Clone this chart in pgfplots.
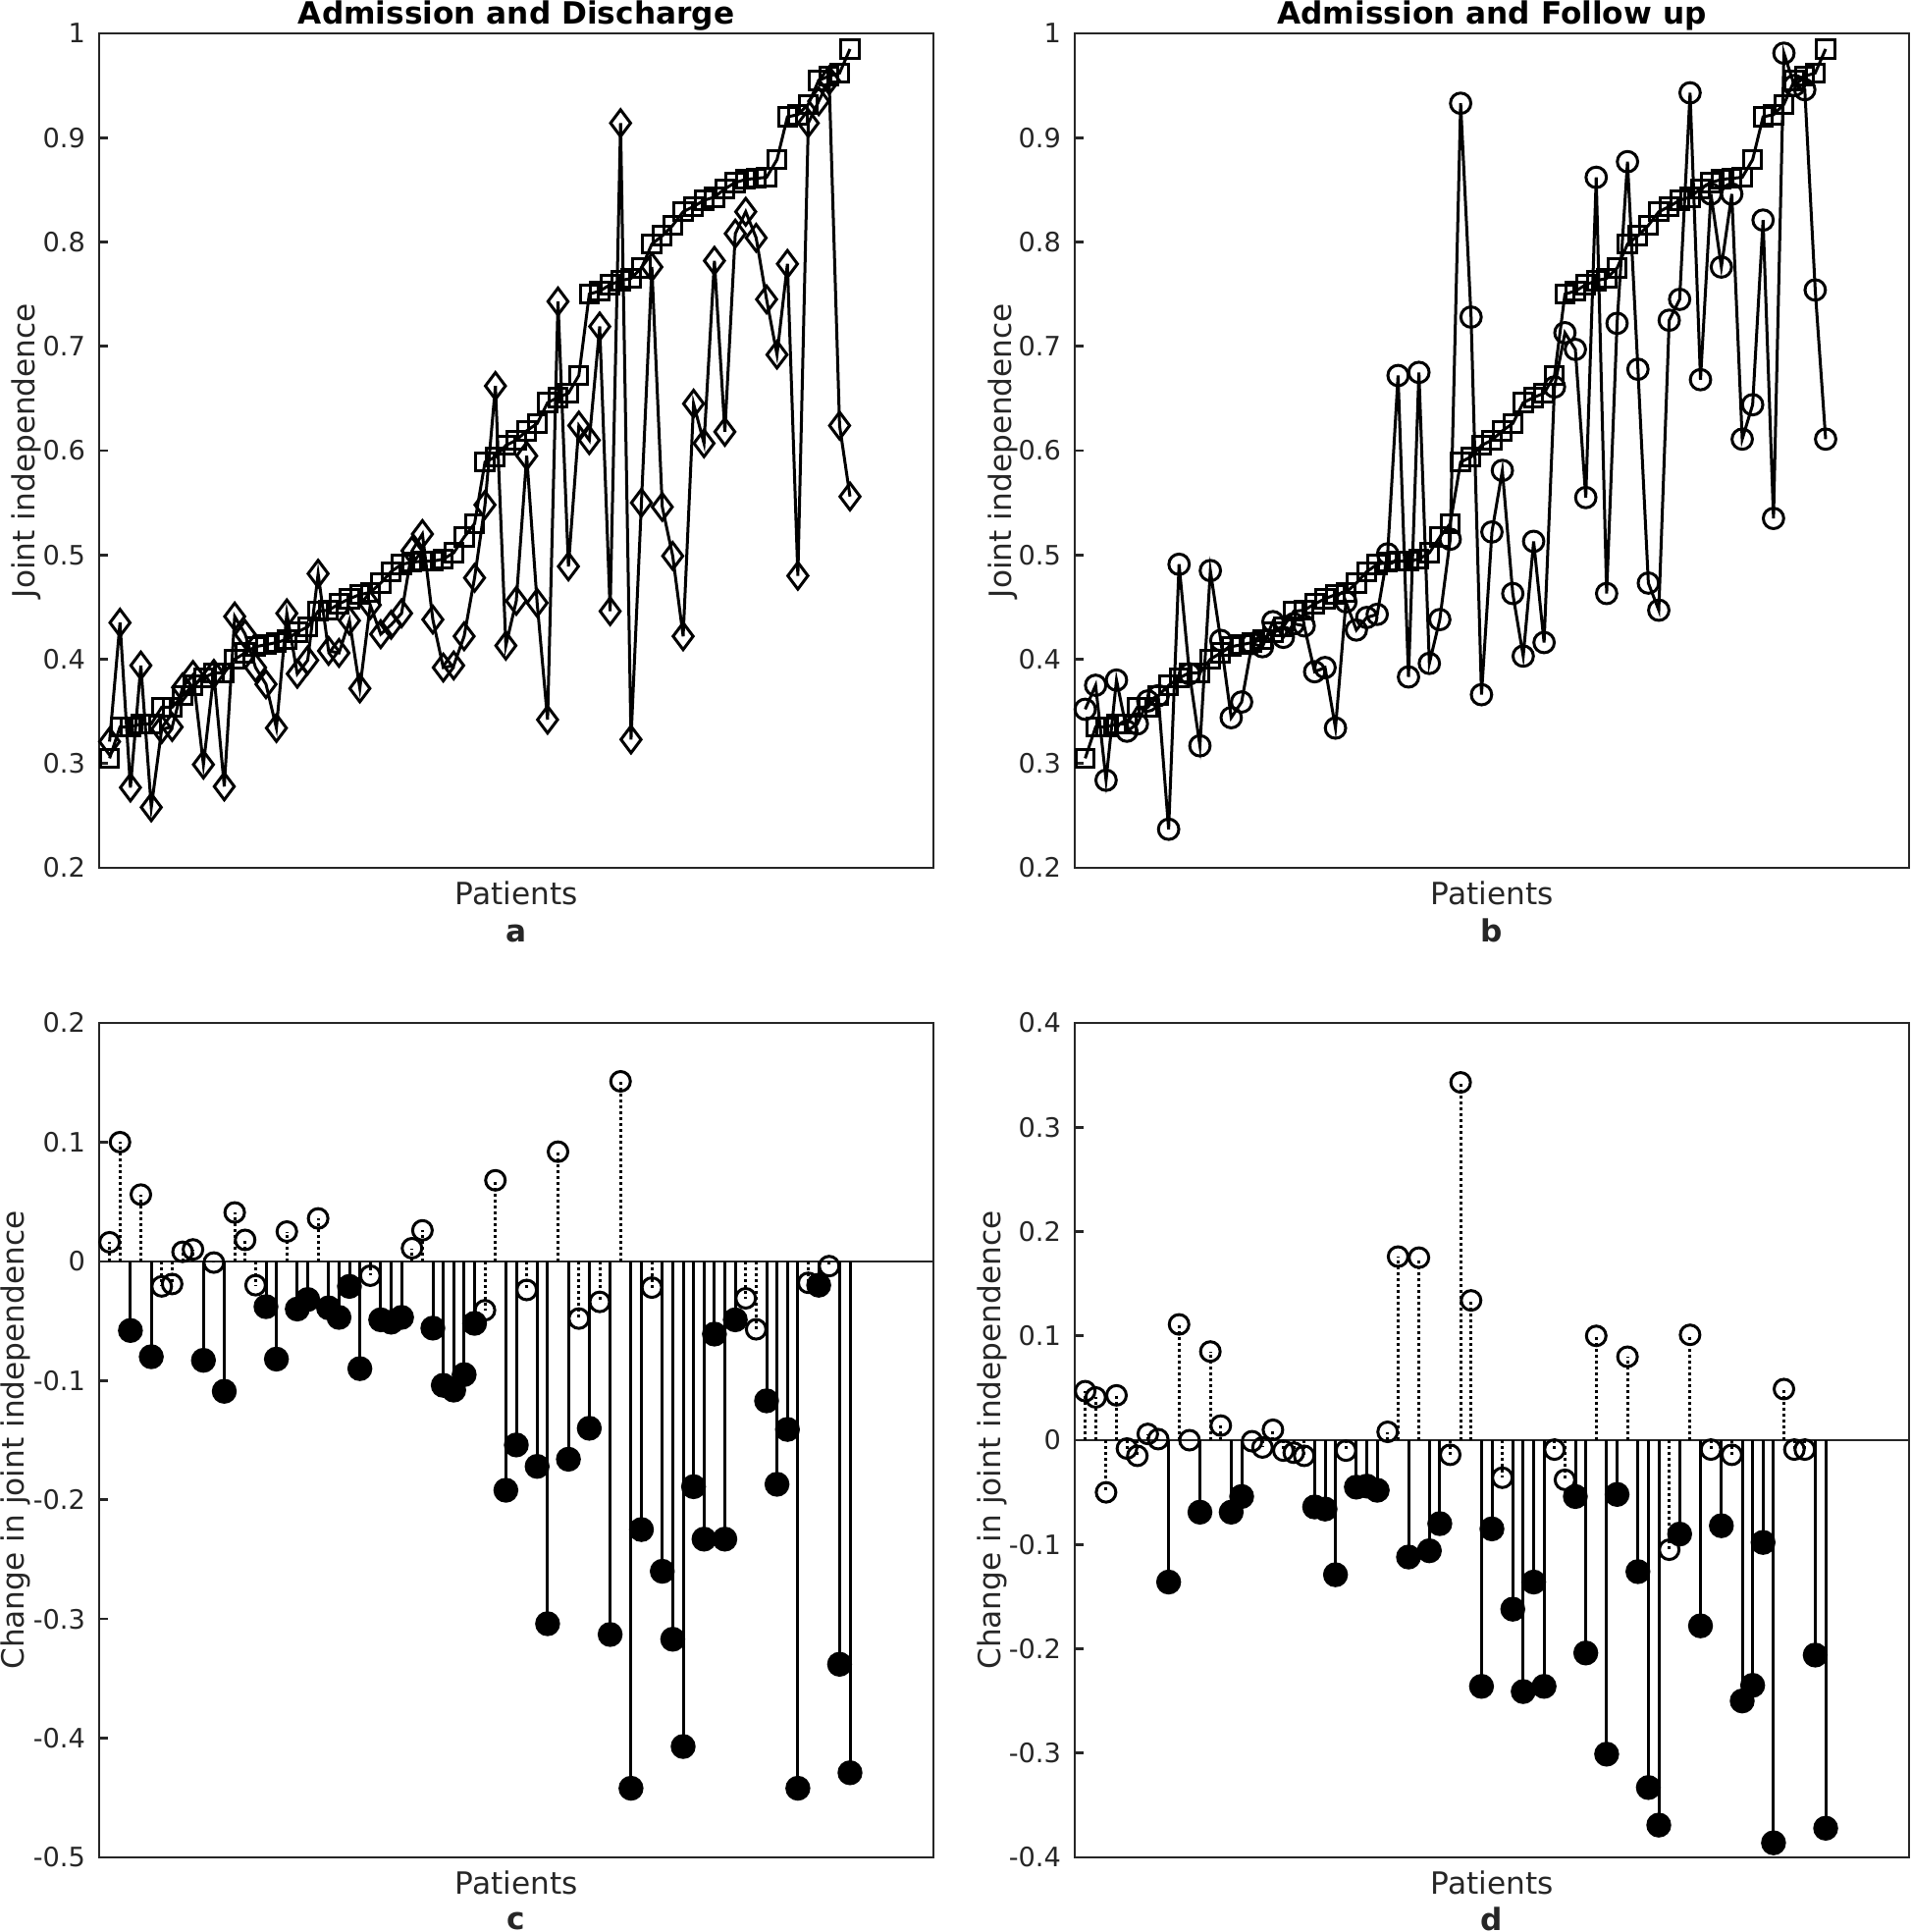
\documentclass[border=0pt]{standalone}
\usepackage{fontspec}
\setmainfont{DejaVu Sans}
\usepackage{pgfplots}
\pgfplotsset{compat=1.18}
\definecolor{axgray}{HTML}{262626}

\newcommand{\tickfont}{\fontsize{6.8}{8}\selectfont}
\newcommand{\labfont}{\fontsize{7.8}{9}\selectfont}

\pgfplotsset{
  panel/.style={
    width=212.5pt, height=212.5pt, scale only axis,
    xmin=0, xmax=80, xtick=\empty,
    axis line style={axgray, line width=0.65pt},
    ytick pos=left, tick align=inside, major tick length=2.25pt,
    every tick/.style={axgray, line width=0.65pt},
    yticklabel style={font=\tickfont, text=axgray},
    /pgf/number format/assume math mode=true,
    scaled y ticks=false,
  },
  dline/.style={black, line width=0.75pt},
}

% admission (sorted), shared by panels a and b
\def\adm{(1,0.305) (2,0.335) (3,0.335) (4,0.338) (5,0.338) (6,0.354) (7,0.354) (8,0.365) (9,0.375) (10,0.382) (11,0.387) (12,0.387) (13,0.400) (14,0.406) (15,0.412) (16,0.414) (17,0.416) (18,0.419) (19,0.426) (20,0.431) (21,0.446) (22,0.447) (23,0.453) (24,0.458) (25,0.462) (26,0.464) (27,0.473) (28,0.484) (29,0.491) (30,0.493) (31,0.494) (32,0.494) (33,0.496) (34,0.502) (35,0.517) (36,0.530) (37,0.589) (38,0.594) (39,0.605) (40,0.610) (41,0.619) (42,0.626) (43,0.646) (44,0.651) (45,0.655) (46,0.672) (47,0.750) (48,0.753) (49,0.759) (50,0.763) (51,0.765) (52,0.775) (53,0.798) (54,0.806) (55,0.816) (56,0.829) (57,0.834) (58,0.840) (59,0.843) (60,0.851) (61,0.857) (62,0.860) (63,0.861) (64,0.862) (65,0.879) (66,0.920) (67,0.922) (68,0.932) (69,0.955) (70,0.959) (71,0.962) (72,0.985)}

\begin{document}
\begin{tikzpicture}
\useasboundingbox (0,0) rectangle (486.75pt,-492pt);

% ---------------- a ----------------
\begin{axis}[panel, name=pa, at={(25.25pt,-8.5pt)}, anchor=north west,
  ymin=0.2, ymax=1, ytick={0.2,0.3,...,1.0}]
\addplot[dline, mark=square, mark size=2.3pt] coordinates {\adm};
\addplot[dline, mark=diamond, mark size=3.4pt] coordinates {
 (1,0.321) (2,0.435) (3,0.277) (4,0.394) (5,0.258) (6,0.333) (7,0.335) (8,0.373) (9,0.385) (10,0.299)
 (11,0.386) (12,0.278) (13,0.441) (14,0.424) (15,0.392) (16,0.376) (17,0.334) (18,0.444) (19,0.386) (20,0.399)
 (21,0.482) (22,0.408) (23,0.406) (24,0.437) (25,0.372) (26,0.452) (27,0.424) (28,0.433) (29,0.444) (30,0.504)
 (31,0.520) (32,0.438) (33,0.392) (34,0.394) (35,0.422) (36,0.478) (37,0.548) (38,0.662) (39,0.413) (40,0.456)
 (41,0.595) (42,0.454) (43,0.342) (44,0.743) (45,0.489) (46,0.624) (47,0.610) (48,0.719) (49,0.446) (50,0.914)
 (51,0.323) (52,0.550) (53,0.776) (54,0.546) (55,0.499) (56,0.422) (57,0.645) (58,0.607) (59,0.782) (60,0.618)
 (61,0.808) (62,0.829) (63,0.804) (64,0.745) (65,0.692) (66,0.779) (67,0.480) (68,0.914) (69,0.935) (70,0.955)
 (71,0.624) (72,0.556)};
\end{axis}
\node[rotate=90, font=\labfont, text=axgray] at ([xshift=-18.5pt]pa.west) {Joint independence};
\node[anchor=base, font=\labfont\bfseries] at ([yshift=2.3pt]pa.north) {Admission and Discharge};
\node[anchor=base, font=\labfont, text=axgray] at ([yshift=-9.3pt]pa.south) {Patients};
\node[anchor=base, font=\labfont\bfseries, text=axgray] at ([yshift=-18.75pt]pa.south) {a};

% ---------------- b ----------------
\begin{axis}[panel, name=pb, at={(273.75pt,-8.5pt)}, anchor=north west,
  ymin=0.2, ymax=1, ytick={0.2,0.3,...,1.0}]
\addplot[dline, mark=square, mark size=2.3pt] coordinates {\adm};
\addplot[dline, mark=o, mark size=2.6pt] coordinates {
 (1,0.352) (2,0.375) (3,0.284) (4,0.380) (5,0.331) (6,0.338) (7,0.360) (8,0.365) (9,0.237) (10,0.491)
 (11,0.386) (12,0.317) (13,0.485) (14,0.418) (15,0.344) (16,0.359) (17,0.415) (18,0.412) (19,0.436) (20,0.421)
 (21,0.434) (22,0.432) (23,0.388) (24,0.392) (25,0.334) (26,0.455) (27,0.428) (28,0.440) (29,0.443) (30,0.501)
 (31,0.672) (32,0.383) (33,0.675) (34,0.396) (35,0.438) (36,0.515) (37,0.933) (38,0.728) (39,0.366) (40,0.522)
 (41,0.581) (42,0.463) (43,0.403) (44,0.513) (45,0.416) (46,0.661) (47,0.713) (48,0.697) (49,0.555) (50,0.862)
 (51,0.463) (52,0.722) (53,0.877) (54,0.678) (55,0.473) (56,0.447) (57,0.725) (58,0.745) (59,0.943) (60,0.668)
 (61,0.846) (62,0.776) (63,0.846) (64,0.611) (65,0.644) (66,0.821) (67,0.535) (68,0.981) (69,0.950) (70,0.946)
 (71,0.754) (72,0.611)};
\end{axis}
\node[rotate=90, font=\labfont, text=axgray] at ([xshift=-18.25pt]pb.west) {Joint independence};
\node[anchor=base, font=\labfont\bfseries] at ([yshift=2.3pt]pb.north) {Admission and Follow up};
\node[anchor=base, font=\labfont, text=axgray] at ([yshift=-9.3pt]pb.south) {Patients};
\node[anchor=base, font=\labfont\bfseries, text=axgray] at ([yshift=-18.75pt]pb.south) {b};

% ---------------- c ----------------
\begin{axis}[panel, name=pc, at={(25.25pt,-260.5pt)}, anchor=north west,
  ymin=-0.5, ymax=0.2, ytick={-0.5,-0.4,...,0.2}]
\addplot[axgray, line width=0.65pt] coordinates {(0,0) (80,0)};
\addplot[dline, ycomb, mark=*, mark size=2.8pt] coordinates {
 (3,-0.058) (5,-0.080) (10,-0.083) (12,-0.109) (16,-0.038) (17,-0.082) (19,-0.040) (20,-0.032)
 (22,-0.039) (23,-0.047) (24,-0.021) (25,-0.090) (27,-0.049) (28,-0.051) (29,-0.047) (32,-0.056)
 (33,-0.104) (34,-0.108) (35,-0.095) (36,-0.052) (39,-0.192) (40,-0.154) (42,-0.172) (43,-0.304)
 (45,-0.166) (47,-0.140) (49,-0.313) (51,-0.442) (52,-0.225) (54,-0.260) (55,-0.317) (56,-0.407)
 (57,-0.189) (58,-0.233) (59,-0.061) (60,-0.233) (61,-0.049) (64,-0.117) (65,-0.187) (66,-0.141)
 (67,-0.442) (69,-0.020) (71,-0.338) (72,-0.429)};
\addplot[dline, ycomb, dash pattern=on 0.75pt off 0.75pt, mark=o, mark size=2.5pt, mark options={solid}] coordinates {
 (1,0.016) (2,0.100) (4,0.056) (6,-0.021) (7,-0.019) (8,0.008) (9,0.010) (11,-0.001) (13,0.041)
 (14,0.018) (15,-0.020) (18,0.025) (21,0.036) (26,-0.012) (30,0.011) (31,0.026) (37,-0.041)
 (38,0.068) (41,-0.024) (44,0.092) (46,-0.048) (48,-0.034) (50,0.151) (53,-0.022) (62,-0.031)
 (63,-0.057) (68,-0.018) (70,-0.004)};
\end{axis}
\node[rotate=90, font=\labfont, text=axgray] at ([xshift=-21.3pt]pc.west) {Change in joint independence};
\node[anchor=base, font=\labfont, text=axgray] at ([yshift=-9.3pt]pc.south) {Patients};
\node[anchor=base, font=\labfont\bfseries, text=axgray] at ([yshift=-18.5pt]pc.south) {c};

% ---------------- d ----------------
\begin{axis}[panel, name=pd, at={(273.75pt,-260.5pt)}, anchor=north west,
  ymin=-0.4, ymax=0.4, ytick={-0.4,-0.3,...,0.4}]
\addplot[axgray, line width=0.65pt] coordinates {(0,0) (80,0)};
\addplot[dline, ycomb, mark=*, mark size=2.8pt] coordinates {
 (9,-0.136) (12,-0.069) (15,-0.069) (16,-0.054) (23,-0.064) (24,-0.066) (25,-0.129) (27,-0.045)
 (28,-0.044) (29,-0.048) (32,-0.112) (34,-0.106) (35,-0.080) (39,-0.236) (40,-0.085) (42,-0.162)
 (43,-0.241) (44,-0.136) (45,-0.236) (48,-0.054) (49,-0.204) (51,-0.301) (52,-0.052) (54,-0.126)
 (55,-0.333) (56,-0.369) (58,-0.090) (60,-0.178) (62,-0.082) (64,-0.250) (65,-0.235) (66,-0.098)
 (67,-0.386) (71,-0.206) (72,-0.372)};
\addplot[dline, ycomb, dash pattern=on 0.75pt off 0.75pt, mark=o, mark size=2.5pt, mark options={solid}] coordinates {
 (1,0.047) (2,0.041) (3,-0.050) (4,0.043) (5,-0.008) (6,-0.015) (7,0.006) (8,0.001) (10,0.111)
 (11,0.000) (13,0.085) (14,0.014) (17,-0.001) (18,-0.007) (19,0.010) (20,-0.010) (21,-0.012)
 (22,-0.015) (26,-0.010) (30,0.008) (31,0.176) (33,0.175) (36,-0.014) (37,0.343) (38,0.134)
 (41,-0.036) (46,-0.009) (47,-0.038) (50,0.100) (53,0.080) (57,-0.105) (59,0.101) (61,-0.009)
 (63,-0.014) (68,0.049) (69,-0.009) (70,-0.009)};
\end{axis}
\node[rotate=90, font=\labfont, text=axgray] at ([xshift=-21.1pt]pd.west) {Change in joint independence};
\node[anchor=base, font=\labfont, text=axgray] at ([yshift=-9.3pt]pd.south) {Patients};
\node[anchor=base, font=\labfont\bfseries, text=axgray] at ([yshift=-18.5pt]pd.south) {d};
\end{tikzpicture}
\end{document}
